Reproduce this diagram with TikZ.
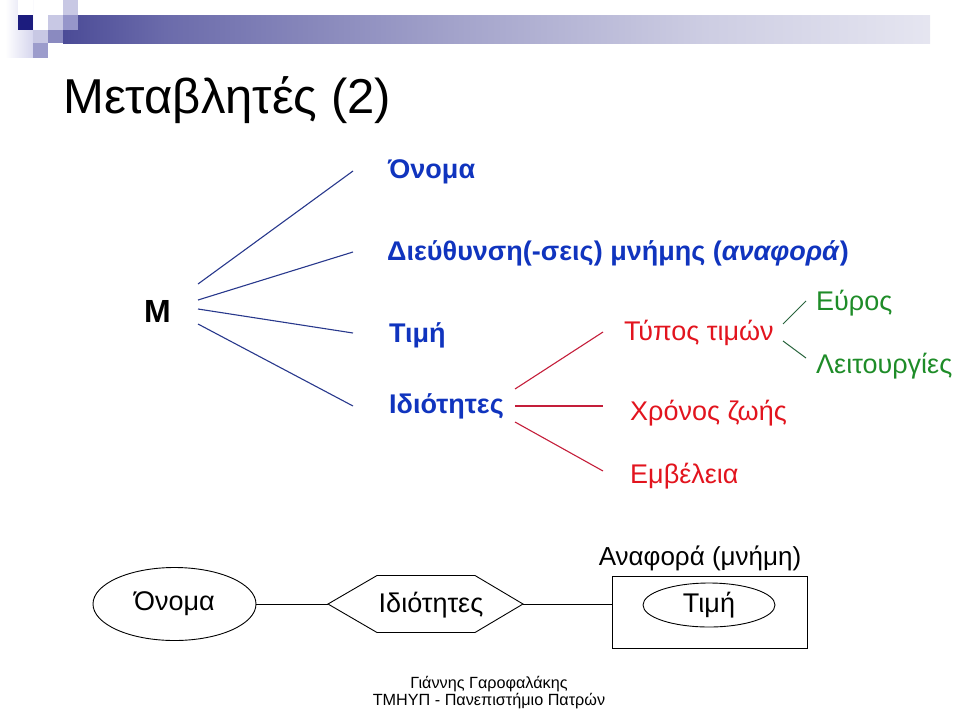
\documentclass[tikz,border=0pt]{standalone}
\usepackage{fontspec}
\setmainfont{Liberation Sans}
\usetikzlibrary{calc,shapes.geometric}
\definecolor{tblue}{RGB}{16,52,190}
\definecolor{lblue}{RGB}{40,56,140}
\definecolor{tred}{RGB}{226,20,30}
\definecolor{lred}{RGB}{196,30,58}
\definecolor{tgreen}{RGB}{30,140,40}
\definecolor{lgreen}{RGB}{40,100,60}
\definecolor{navy}{RGB}{28,28,126}
\definecolor{lavA}{RGB}{214,214,238}
\definecolor{lavB}{RGB}{200,200,228}
\definecolor{lavC}{RGB}{156,156,204}
\definecolor{lavD}{RGB}{138,138,192}
\definecolor{lavE}{RGB}{150,150,202}
\pgfdeclarehorizontalshading{barshade}{100bp}{color(0bp)=(navy); color(16bp)=(navy!95!black); color(31bp)=(navy!65!white); color(48bp)=(navy!40!white); color(62bp)=(navy!22!white); color(79bp)=(navy!8!white); color(94bp)=(navy!2!white); color(100bp)=(white)}
\tikzset{
  bline/.style={draw=lblue, line width=1.1pt},
  rline/.style={draw=lred, line width=1.1pt},
  gline/.style={draw=lgreen, line width=1pt},
  btext/.style={text=tblue, font=\fontsize{27}{32}\selectfont\bfseries, anchor=base west, inner sep=0pt},
  rtext/.style={text=tred, font=\fontsize{27}{32}\selectfont, anchor=base west, inner sep=0pt},
  gtext/.style={text=tgreen, font=\fontsize{27}{30}\selectfont, anchor=base west, inner sep=0pt},
  ertext/.style={font=\fontsize{27}{30}\selectfont, inner sep=0pt},
  erline/.style={draw=black, line width=0.9pt},
  foot/.style={font=\fontsize{16.2}{18}\selectfont, anchor=base, inner sep=0pt}
}
\begin{document}
\begin{tikzpicture}[x=1pt, y=-1pt]
\useasboundingbox (0,0) rectangle (960,710);
% logo bar and squares
\shade[shading=barshade] (63,15) rectangle (930,43);
\shade[left color=white, right color=lavA] (5,0) rectangle (33,57);
\fill[navy] (18,15) rectangle (33,30);
\fill[white] (18,0) rectangle (33,15);
\fill[lavB] (33,30) rectangle (48,43);
\fill[lavC] (33,43) rectangle (48,58);
\fill[lavB] (48,15) rectangle (63,30);
\fill[lavD] (48,30) rectangle (63,43);
\fill[lavB] (63,0) rectangle (78,15);
\fill[lavE] (63,15) rectangle (78,30);
% title
\node[anchor=base west, inner sep=0pt, font=\fontsize{49}{54}\selectfont] (title) at (63,113) {Μεταβλητές (2)};
% M and its attributes
\node[anchor=base west, inner sep=0pt, font=\fontsize{32}{36}\selectfont\bfseries] (M) at (144,322) {M};
\node[btext] (onoma) at (388,178) {Όνομα};
\node[btext] (dieu) at (387,260) {Διεύθυνση(-σεις) μνήμης (\textit{αναφορά})};
\node[btext] (timi) at (389,342) {Τιμή};
\node[btext] (idiot) at (389,413) {Ιδιότητες};
\coordinate (a1) at (198,284); \coordinate (b1) at (353,171);
\coordinate (a2) at (198,300); \coordinate (b2) at (353,252);
\coordinate (a3) at (198,309); \coordinate (b3) at (353,333);
\coordinate (a4) at (198,324); \coordinate (b4) at (353,406);
\draw[bline] (a1) -- (b1);
\draw[bline] (a2) -- (b2);
\draw[bline] (a3) -- (b3);
\draw[bline] (a4) -- (b4);
% properties
\node[rtext] (typos) at (624,340) {Τύπος τιμών};
\node[rtext] (xronos) at (630,420) {Χρόνος ζωής};
\node[rtext] (emv) at (630,483) {Εμβέλεια};
\coordinate (c1) at (515,389); \coordinate (d1) at (603,332);
\coordinate (c2) at (515,406); \coordinate (d2) at (603,406);
\coordinate (c3) at (515,422); \coordinate (d3) at (603,471);
\draw[rline] (c1) -- (d1);
\draw[rline] (c2) -- (d2);
\draw[rline] (c3) -- (d3);
% type of values
\node[gtext] (evros) at (816,310) {Εύρος};
\node[gtext] (leit) at (816,373) {Λειτουργίες};
\coordinate (e1) at (783,324); \coordinate (f1) at (806,301);
\coordinate (e2) at (783,341); \coordinate (f2) at (806,358);
\draw[gline] (e1) -- (f1);
\draw[gline] (e2) -- (f2);
% bottom diagram
\node[erline, ellipse, minimum width=163pt, minimum height=73pt, inner sep=0pt, font=\fontsize{27}{30}\selectfont] (bon) at (174.5,604) {Όνομα};
\node[ertext] (hx) at (431,605) {Ιδιότητες};
\coordinate (hw) at (328,604);
\coordinate (he) at (523,604);
\draw[erline] (hw) -- (377,575.5) -- (475,575.5) -- (he) -- (475,632.5) -- (377,632.5) -- cycle;
\node[erline, rectangle, minimum width=195pt, minimum height=72pt, inner sep=0pt] (box) at (709.5,612) {};
\node[erline, ellipse, minimum width=132pt, minimum height=44pt, inner sep=0pt, font=\fontsize{27}{30}\selectfont] (btimi) at (709,605) {Τιμή};
\node[anchor=base, inner sep=0pt, font=\fontsize{26}{28}\selectfont] (anaf) at (700,565) {Αναφορά (μνήμη)};
\draw[erline] (bon.east) -- (hw);
\draw[erline] (he) -- (he -| box.west);
% footer
\node[foot] (foot1) at (489,688) {Γιάννης Γαροφαλάκης};
\node[foot] (foot2) at (489,705) {ΤΜΗΥΠ - Πανεπιστήμιο Πατρών};
\end{tikzpicture}
\end{document}
